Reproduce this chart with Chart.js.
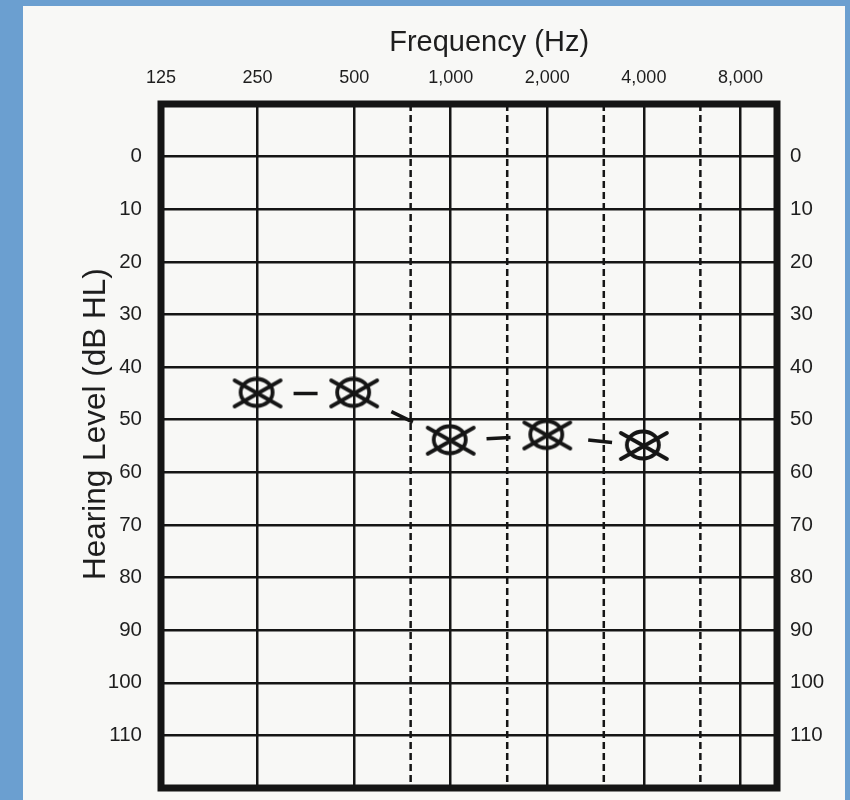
<!DOCTYPE html>
<html><head><meta charset="utf-8">
<script src="https://cdn.jsdelivr.net/npm/chart.js@4.4.0/dist/chart.umd.min.js"></script>
<style>
html,body{margin:0;padding:0;width:850px;height:800px;overflow:hidden;background:#6b9fd0;}
#paper{position:absolute;left:23px;top:6px;width:822px;height:794px;background:#f8f8f6;}
#wrap{position:absolute;left:0;top:0;width:850px;height:800px;}
</style></head><body>
<div id="paper"></div>
<div id="wrap"><canvas id="c" width="850" height="800"></canvas></div>
<script>
// ---- data ----
const frequencies = [250, 500, 1000, 2000, 4000];
const hearingLevels = [45, 45, 54, 53, 55];
const majorFreqTicks = [125, 250, 500, 1000, 2000, 4000, 8000];
const minorFreqTicks = [750, 1500, 3000, 6000];
const levelTicks = [0, 10, 20, 30, 40, 50, 60, 70, 80, 90, 100, 110];
const levelRange = [-10, 120];
const freqRange = [125, 10400];
const xTitle = 'Frequency (Hz)';
const yTitle = 'Hearing Level (dB HL)';

const INK = '#151515';
const TXT = '#1e1e1e';
const FONT = "'Liberation Sans', Arial, Helvetica, sans-serif";

function fmt(v){ return String(v).replace(/\B(?=(\d{3})+(?!\d))/g, ','); }

function makeMarker(){
  const c = document.createElement('canvas');
  c.width = 52; c.height = 34;
  const g = c.getContext('2d');
  g.strokeStyle = INK; g.lineWidth = 3.8; g.lineCap = 'round';
  g.beginPath(); g.ellipse(25, 16, 16, 13.5, 0, 0, Math.PI * 2); g.stroke();
  g.beginPath();
  g.moveTo(3, 4); g.lineTo(49, 30);
  g.moveTo(49, 4); g.lineTo(3, 30);
  g.stroke();
  return c;
}

const framePlugin = {
  id: 'frame',
  beforeDatasetsDraw(chart){
    const {ctx, chartArea: a} = chart;
    ctx.save();
    ctx.strokeStyle = INK; ctx.lineWidth = 7;
    ctx.strokeRect(a.left, a.top, a.right - a.left, a.bottom - a.top);
    ctx.restore();
  }
};

const minorLineSets = minorFreqTicks.map(f => ({
  data: levelRange.map(l => ({x: f, y: l})),
  borderColor: INK, borderWidth: 2.5, borderDash: [7, 4],
  pointRadius: 0, pointHoverRadius: 0, tension: 0, fill: false, order: 2,
  xAxisID: 'x', yAxisID: 'y'
}));

new Chart(document.getElementById('c'), {
  type: 'line',
  data: {
    datasets: [{
      data: frequencies.map((f, i) => ({x: f, y: hearingLevels[i]})),
      borderColor: INK,
      borderWidth: 3.5,
      borderDash: [24, 78],
      borderDashOffset: 66,
      tension: 0,
      fill: false,
      pointStyle: makeMarker(),
      pointRadius: 2,
      pointHoverRadius: 2,
      pointBorderWidth: 0,
      order: 1,
      xAxisID: 'x', yAxisID: 'y'
    }].concat(minorLineSets)
  },
  options: {
    responsive: false,
    animation: false,
    layout: {autoPadding: false, padding: {left: 0, right: 0, top: 0, bottom: 12}},
    plugins: {legend: {display: false}, tooltip: {enabled: false}},
    scales: {
      x: {
        type: 'logarithmic', position: 'top', min: freqRange[0], max: freqRange[1],
        afterFit(s){ s.height = 104; s.paddingLeft = 0; s.paddingRight = 0; },
        afterBuildTicks(s){ s.ticks = majorFreqTicks.map(v => ({value: v})); },
        ticks: {
          autoSkip: false, maxRotation: 0, minRotation: 0, padding: 15, color: TXT,
          font: {family: FONT, size: 18},
          callback: (v) => fmt(v)
        },
        grid: {drawTicks: false, color: INK, lineWidth: 2.5},
        border: {display: false},
        title: {display: true, text: '     ' + xTitle, color: TXT, padding: {top: 26, bottom: 0},
                font: {family: FONT, size: 29}}
      },
      y: {
        type: 'linear', position: 'left', reverse: true, min: levelRange[0], max: levelRange[1],
        afterFit(s){ s.width = 161; s.paddingTop = 0; s.paddingBottom = 0; },
        afterBuildTicks(s){ s.ticks = levelTicks.map(v => ({value: v})); },
        ticks: {padding: 19, color: TXT, font: {family: FONT, size: 20.5}},
        grid: {drawTicks: false, color: INK, lineWidth: 2.5},
        border: {display: false},
        title: {display: true, text: '     ' + yTitle, color: TXT, padding: {top: 77, bottom: 0},
                font: {family: FONT, size: 31.5}}
      },
      y2: {
        type: 'linear', position: 'right', reverse: true, min: levelRange[0], max: levelRange[1],
        afterFit(s){ s.width = 73; s.paddingTop = 0; s.paddingBottom = 0; },
        afterBuildTicks(s){ s.ticks = levelTicks.map(v => ({value: v})); },
        ticks: {padding: 13, color: TXT, font: {family: FONT, size: 20.5}},
        grid: {display: false, drawTicks: false},
        border: {display: false}
      }
    }
  },
  plugins: [framePlugin]
});
</script>
</body></html>
